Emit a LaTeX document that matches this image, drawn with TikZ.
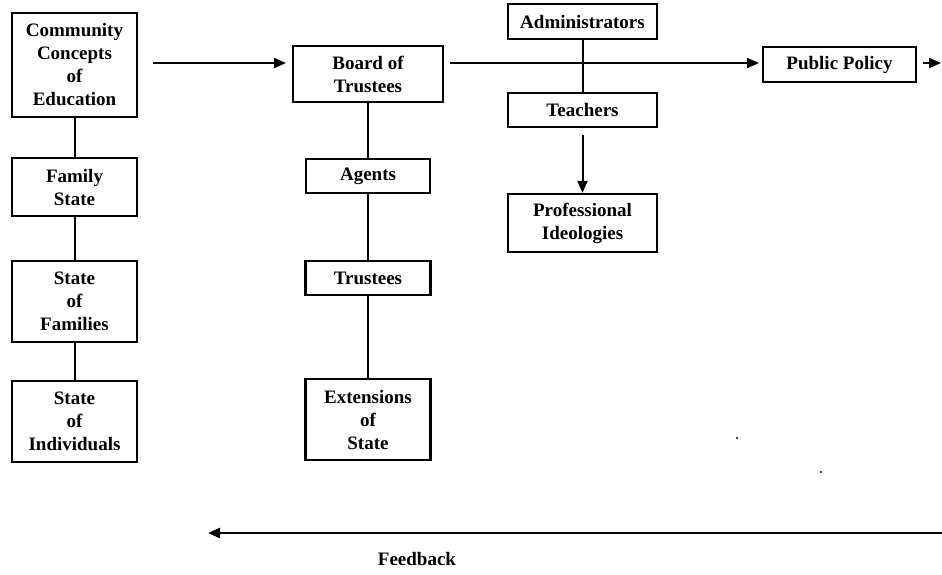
\documentclass[tikz,border=0pt]{standalone}
\usepackage{fontspec}
\setmainfont{Liberation Serif}
\usetikzlibrary{arrows.meta,calc}
\tikzset{
  box/.style={draw, line width=2.2pt, rectangle, align=center, inner sep=0pt,
    font=\fontsize{19pt}{23pt}\selectfont\bfseries},
  link/.style={line width=2pt},
  arr/.style={line width=2pt, -{Triangle[length=12pt,width=10pt]}},
  lbl/.style={font=\fontsize{19pt}{23pt}\selectfont\bfseries},
}
\begin{document}
\begin{tikzpicture}[x=1pt,y=-1pt]
\useasboundingbox (0,0) rectangle (942,574);
% left column
\node[box, minimum width=125pt, minimum height=104pt] (comm) at (74.5,65) {Community\\Concepts\\of\\Education};
\node[box, minimum width=125pt, minimum height=58pt] (family) at (74.5,187) {Family\\State};
\node[box, minimum width=125pt, minimum height=81pt] (families) at (74.5,301.5) {State\\of\\Families};
\node[box, minimum width=125pt, minimum height=81pt] (indiv) at (74.5,421.5) {State\\of\\Individuals};
% middle column
\node[box, minimum width=150pt, minimum height=56pt] (board) at (368,74) {Board of\\Trustees};
\node[box, minimum width=124pt, minimum height=34pt] (agents) at (368,176) {Agents};
\node[box, minimum width=125pt, minimum height=34pt] (trustees) at (368,278) {Trustees};
\node[box, minimum width=125pt, minimum height=81pt] (ext) at (368,419.5) {Extensions\\of\\State};
% right column
\node[box, minimum width=149pt, minimum height=35pt] (admin) at (582.5,21.5) {Administrators};
\node[box, minimum width=149pt, minimum height=34pt] (teachers) at (582.5,110) {Teachers};
\node[box, minimum width=149pt, minimum height=58pt] (prof) at (582.5,223) {Professional\\Ideologies};
\node[box, minimum width=153pt, minimum height=35pt] (policy) at (839.5,64.5) {Public Policy};
% helper coordinates
\coordinate (c1) at (153,63);
\coordinate (c2) at (286,63);
\coordinate (c3) at (450,63);
\coordinate (c4) at (759,63);
\coordinate (c5) at (923,63);
\coordinate (c6) at (941,63);
\coordinate (t1) at (582.5,135);
\coordinate (fb1) at (942,533);
\coordinate (fb2) at (208,533);
% connectors
\draw[link] (comm.south) -- (family.north);
\draw[link] (family.south) -- (families.north);
\draw[link] (families.south) -- (indiv.north);
\draw[link] (board.south) -- (agents.north);
\draw[link] (agents.south) -- (trustees.north);
\draw[link] (trustees.south) -- (ext.north);
\draw[link] (admin.south) -- (teachers.north);
\draw[arr] (c1) -- (c2);
\draw[arr] (c3) -- (c4);
\draw[arr] (c5) -- (c6);
\draw[arr] (t1) -- (prof.north);
\draw[arr, line width=2.5pt] (fb1) -- (fb2);
\node[lbl] (feedback) at (417,559) {Feedback};
% scan specks
\fill (737,438) circle (1.2pt);
\fill (821,472) circle (1.2pt);
\end{tikzpicture}
\end{document}
